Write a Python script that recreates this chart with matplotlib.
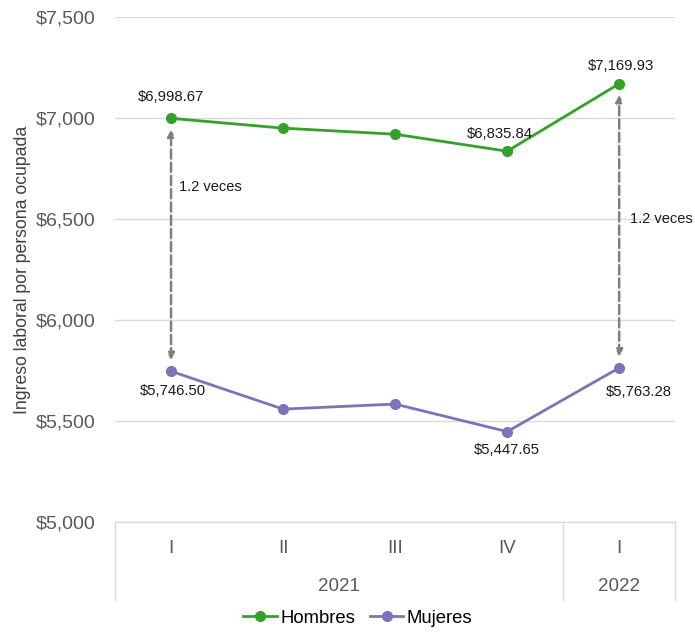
import matplotlib.pyplot as plt
from matplotlib.transforms import blended_transform_factory

plt.rcParams['font.family'] = ['Liberation Sans', 'DejaVu Sans']

quarters = ['I', 'II', 'III', 'IV', 'I']
years = ['2021', '2022']
hombres = [6998.67, 6950, 6920, 6835.84, 7169.93]
mujeres = [5746.50, 5559, 5584, 5447.65, 5763.28]
yticks = [5000, 5500, 6000, 6500, 7000, 7500]

green = '#35a02c'
purple = '#7b74b8'
grid_c = '#d9d9d9'

fig = plt.figure(figsize=(6.95, 6.32), dpi=100)
ax = fig.add_axes([0.1655, 0.174, 0.806, 0.799])
x = list(range(len(quarters)))

ax.plot(x, hombres, color=green, lw=2, marker='o', ms=7, label='Hombres', zorder=3)
ax.plot(x, mujeres, color=purple, lw=2, marker='o', ms=7, label='Mujeres', zorder=3)

ax.set_xlim(-0.5, 4.5)
ax.set_ylim(5000, 7500)
ax.set_yticks(yticks)
ax.set_yticklabels(['${:,}'.format(v) for v in yticks], color='#595959', fontsize=14)
ax.yaxis.grid(True, color=grid_c, lw=1)
ax.set_axisbelow(True)
for s in ['top', 'right', 'left']:
    ax.spines[s].set_visible(False)
ax.spines['bottom'].set_color(grid_c)
ax.tick_params(axis='y', length=0, pad=14)
ax.tick_params(axis='x', length=0)
ax.set_xticks(x)
ax.set_xticklabels(quarters, color='#595959', fontsize=13.5)
ax.tick_params(axis='x', pad=13)
ax.set_ylabel('Ingreso laboral por persona ocupada', fontsize=12.7, color='#404040')
ax.yaxis.set_label_coords(-0.15, 0.5)

# category axis boxes
tr = blended_transform_factory(ax.transData, ax.transAxes)
for xb in [-0.5, 3.5, 4.5]:
    ax.plot([xb, xb], [0, -0.155], transform=tr, color=grid_c, lw=1, clip_on=False)
ax.text(1.5, -0.127, years[0], transform=tr, ha='center', va='center', fontsize=13.5, color='#595959')
ax.text(4, -0.127, years[1], transform=tr, ha='center', va='center', fontsize=13.5, color='#595959')

# data labels
lab_kw = dict(fontsize=10.7, ha='center', color='#1a1a1a')
ax.annotate('${:,.2f}'.format(hombres[0]), (0, hombres[0]), xytext=(0, 10), textcoords='offset points', va='bottom', **lab_kw)
ax.annotate('${:,.2f}'.format(hombres[3]), (3, hombres[3]), xytext=(-5, 7), textcoords='offset points', va='bottom', **lab_kw)
ax.annotate('${:,.2f}'.format(hombres[4]), (4, hombres[4]), xytext=(1, 8), textcoords='offset points', va='bottom', **lab_kw)
ax.annotate('${:,.2f}'.format(mujeres[0]), (0, mujeres[0]), xytext=(1, -9), textcoords='offset points', va='top', **lab_kw)
ax.annotate('${:,.2f}'.format(mujeres[3]), (3, mujeres[3]), xytext=(0, -8), textcoords='offset points', va='top', **lab_kw)
ax.annotate('${:,.2f}'.format(mujeres[4]), (4, mujeres[4]), xytext=(14, -12), textcoords='offset points', va='top', **lab_kw)

# ratio arrows
for i, tx, ty in [(0, 0.07, 6660), (4, 4.1, 6500)]:
    ax.annotate('', xy=(i, hombres[i]), xytext=(i, mujeres[i]),
                arrowprops=dict(arrowstyle='<|-|>', color='#7f7f7f', lw=1.8, ls='--',
                                shrinkA=8, shrinkB=8, mutation_scale=10))
    ax.text(tx, ty, '1.2 veces', fontsize=10.5, color='#1a1a1a', va='center', ha='left', clip_on=False)

fig.legend(loc='lower center', bbox_to_anchor=(0.515, -0.018), ncol=2, frameon=False,
           fontsize=13.3, handlelength=1.8, handletextpad=0.2, columnspacing=0.8)

fig.savefig('out.png', dpi=100)
